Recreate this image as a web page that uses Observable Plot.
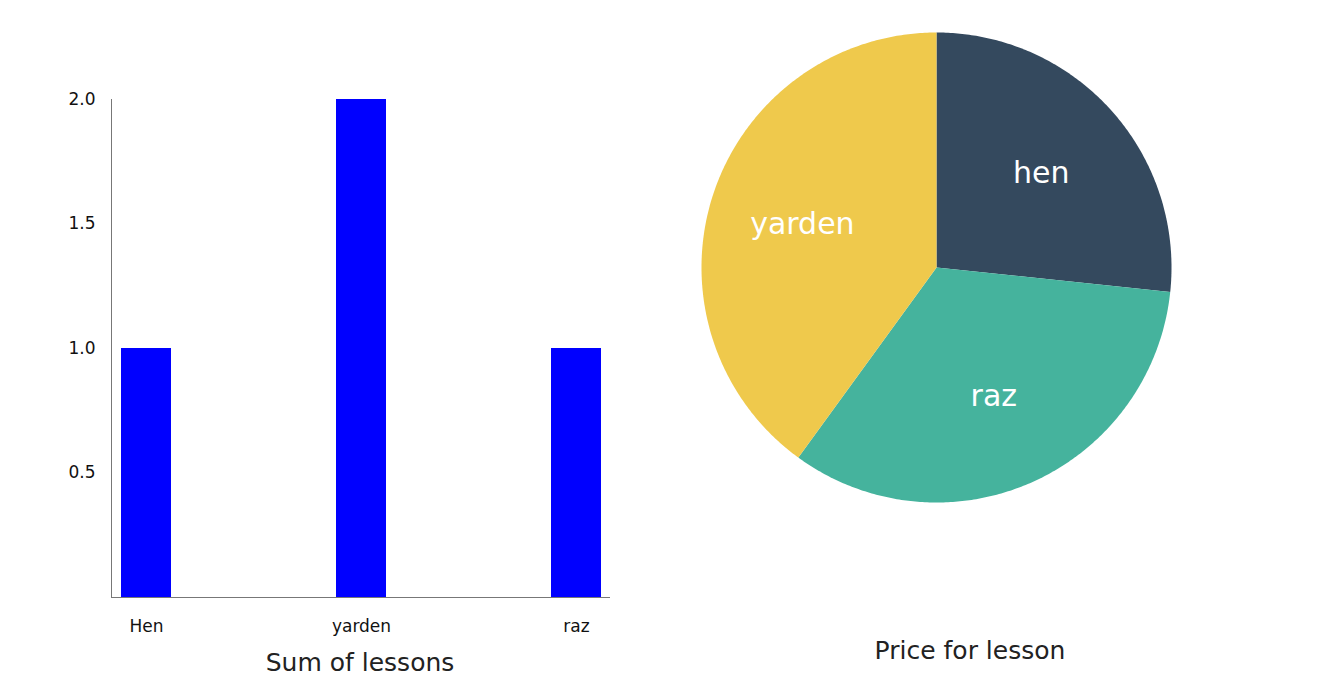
<!DOCTYPE html>
<html>
<head>
<meta charset="utf-8">
<script src="https://cdn.jsdelivr.net/npm/d3@7"></script>
<script src="https://cdn.jsdelivr.net/npm/@observablehq/plot@0.6"></script>
<style>
  body { margin: 0; background: #fff; font-family: "DejaVu Sans", sans-serif; }
  #bars { position: absolute; left: 0; top: 0; }
  #pie { position: absolute; left: 690px; top: 20px; }
  .cap { position: absolute; font-size: 25px; color: #222; transform: translateX(-50%); white-space: nowrap; }
</style>
</head>
<body>
<div id="bars"></div>
<div id="pie"></div>
<div class="cap" style="left:360px; top:648px">Sum of lessons</div>
<div class="cap" style="left:970px; top:636px">Price for lesson</div>
<script>
// bar chart data
const teachers = ['Hen', 'yarden', 'raz'];
const lessons = [1, 2, 1];
const yTicks = [0.5, 1, 1.5, 2];

// pie data (price per lesson)
const pieNames = ['hen', 'raz', 'yarden'];
const prices = [80, 100, 120];
const pieColors = ['#34495e', '#45b39d', '#efc94c'];

const barData = teachers.map((t, i) => ({name: t, value: lessons[i]}));

const bars = Plot.plot({
  width: 640,
  height: 640,
  marginLeft: 111,
  marginRight: 30,
  marginTop: 99,
  marginBottom: 43,
  style: {fontFamily: 'DejaVu Sans, sans-serif', fontSize: '17px', color: '#111'},
  x: {domain: teachers, paddingInner: 0.768, paddingOuter: 0.042, label: null, tickSize: 0, tickPadding: 22},
  y: {domain: [0, 2], ticks: yTicks, label: null, tickSize: 0, tickPadding: 16},
  marks: [
    Plot.barY(barData, {x: 'name', y: 'value', fill: '#0000ff'}),
    Plot.frame({anchor: 'left', stroke: '#777'}),
    Plot.ruleY([0], {stroke: '#777'})
  ]
});
d3.select('#bars').append(() => bars);

// build pie slices
const arcs = d3.pie().sort(null)(prices);
const R = 1;
const features = arcs.map((a, i) => {
  const pts = [[0, 0]];
  const n = Math.max(2, Math.ceil((a.endAngle - a.startAngle) / 0.01));
  for (let k = 0; k <= n; k++) {
    const t = a.startAngle + (a.endAngle - a.startAngle) * k / n;
    pts.push([Math.sin(t) * R, -Math.cos(t) * R]);
  }
  pts.push([0, 0]);
  const mid = (a.startAngle + a.endAngle) / 2;
  return {
    type: 'Feature',
    properties: {name: pieNames[i], color: pieColors[i], lx: Math.sin(mid) * 0.6, ly: -Math.cos(mid) * 0.6},
    geometry: {type: 'Polygon', coordinates: [pts]}
  };
});
const outline = {type: 'FeatureCollection', features};

const pie = Plot.plot({
  width: 492,
  height: 494,
  margin: 11,
  marginTop: 12,
  marginBottom: 12,
  projection: {type: 'identity', domain: outline},
  style: {fontFamily: 'DejaVu Sans, sans-serif'},
  marks: [
    Plot.geo(features, {fill: d => d.properties.color, stroke: 'none'}),
    Plot.text(features, {x: d => d.properties.lx, y: d => d.properties.ly, text: d => d.properties.name, fill: 'white', fontSize: 30})
  ]
});
d3.select('#pie').append(() => pie);
</script>
</body>
</html>
